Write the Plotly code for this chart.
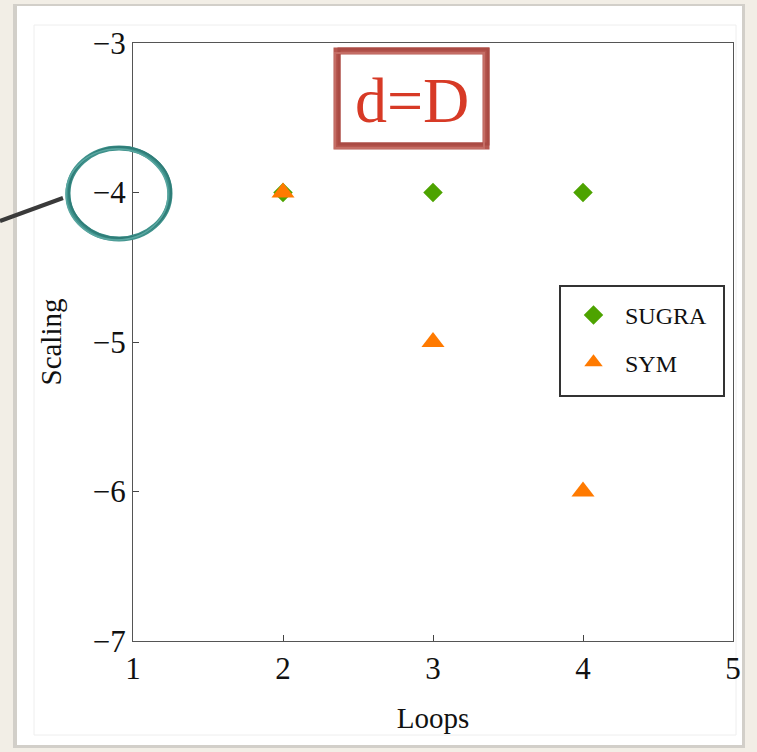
import plotly.graph_objects as go

loops = [2, 3, 4]
sugra = [-4, -4, -4]
sym = [-4, -5, -6]
x_ticks = [1, 2, 3, 4, 5]
y_ticks = [-7, -6, -5, -4, -3]
y_tick_text = ["\u22127", "\u22126", "\u22125", "\u22124", "\u22123"]

W, H = 757, 752
L, R, T, B = 133, 733, 43, 641

def px(x):
    return (x - L) / (R - L)

def py(y):
    return (B - y) / (B - T)

serif = "Liberation Serif, Times New Roman, serif"

fig = go.Figure()
fig.add_trace(go.Scatter(x=loops, y=sugra, mode="markers", name="SUGRA",
                         legendgroup="a",
                         marker=dict(symbol="diamond", size=15, color="#4da300")))
fig.add_trace(go.Scatter(x=loops, y=sym, mode="markers", name="SYM",
                         legendgroup="b",
                         marker=dict(symbol="triangle-up", size=20, color="#ff7a00")))

shapes = []
# slide background panel with shadow
shapes.append(dict(type="rect", xref="paper", yref="paper", layer="below",
                   x0=px(13), x1=px(745), y0=py(4), y1=py(748),
                   fillcolor="#d2cfc9", line=dict(width=0)))
shapes.append(dict(type="rect", xref="paper", yref="paper", layer="below",
                   x0=px(17), x1=px(742), y0=py(6), y1=py(745),
                   fillcolor="white", line=dict(width=0)))
shapes.append(dict(type="rect", xref="paper", yref="paper", layer="below",
                   x0=px(34), x1=px(736), y0=py(25), y1=py(735),
                   fillcolor="rgba(0,0,0,0)", line=dict(width=1, color="#eeeeee")))
# legend frame
shapes.append(dict(type="rect", xref="paper", yref="paper",
                   x0=px(560), x1=px(724), y0=py(286), y1=py(396),
                   fillcolor="white", line=dict(width=2, color="#333333")))
# title box (brush style)
for dx, dy, w, c in [(0, 0, 7, "#b6574f"), (2, -2, 3, "#aa4b44"), (-2, 2, 2, "#c46d65")]:
    shapes.append(dict(type="rect", xref="paper", yref="paper",
                       x0=px(337 + dx), x1=px(486 + dx), y0=py(51 + dy), y1=py(146 + dy),
                       fillcolor="rgba(0,0,0,0)", line=dict(width=w, color=c)))
# teal circle
for dx, dy, w, c in [(0, 0, 5, "#3e918b"), (1, -1, 2, "#2f7d78"), (-2, 1, 1.5, "#5aa7a1")]:
    shapes.append(dict(type="circle", xref="paper", yref="paper",
                       x0=px(68 + dx), x1=px(170 + dx), y0=py(148 + dy), y1=py(239 + dy),
                       line=dict(width=w, color=c)))
# pointer line
shapes.append(dict(type="line", xref="paper", yref="paper",
                   x0=px(0), x1=px(63), y0=py(221), y1=py(198),
                   line=dict(width=4, color="#3a3a3a")))

fig.update_layout(
    width=W, height=H,
    margin=dict(l=L, r=W - R, t=T, b=H - B, pad=0),
    paper_bgcolor="#f2eee6",
    plot_bgcolor="white",
    font=dict(family=serif, color="#111111"),
    showlegend=True,
    legend=dict(x=px(562), y=py(293), xanchor="left", yanchor="top",
                bgcolor="rgba(0,0,0,0)", borderwidth=0,
                font=dict(size=24, family=serif), tracegroupgap=13,
                itemwidth=53, traceorder="grouped",
                entrywidth=110, entrywidthmode="pixels"),
    shapes=shapes,
    annotations=[dict(text="d=D", xref="paper", yref="paper", x=px(412), y=py(100),
                      showarrow=False, font=dict(size=64, color="#d73a26", family=serif),
                      xanchor="center", yanchor="middle")],
)
fig.update_xaxes(range=[1, 5], tickvals=x_ticks, ticks="inside", ticklen=6,
                 tickcolor="#444", showline=True, linecolor="#555", linewidth=1.2,
                 mirror=True, showgrid=False, zeroline=False,
                 tickfont=dict(size=31, family=serif),
                 title=dict(text="Loops", font=dict(size=29, family=serif), standoff=22))
fig.update_yaxes(range=[-7, -3], tickvals=y_ticks, ticktext=y_tick_text, ticks="inside",
                 ticklen=6, tickcolor="#444", showline=True, linecolor="#555", linewidth=1.2,
                 mirror=True, showgrid=False, zeroline=False,
                 tickfont=dict(size=31, family=serif),
                 title=dict(text="Scaling", font=dict(size=29, family=serif), standoff=22))

fig.write_html("out.html", config={"displayModeBar": False},
               post_script="document.body.style.margin='0';")
